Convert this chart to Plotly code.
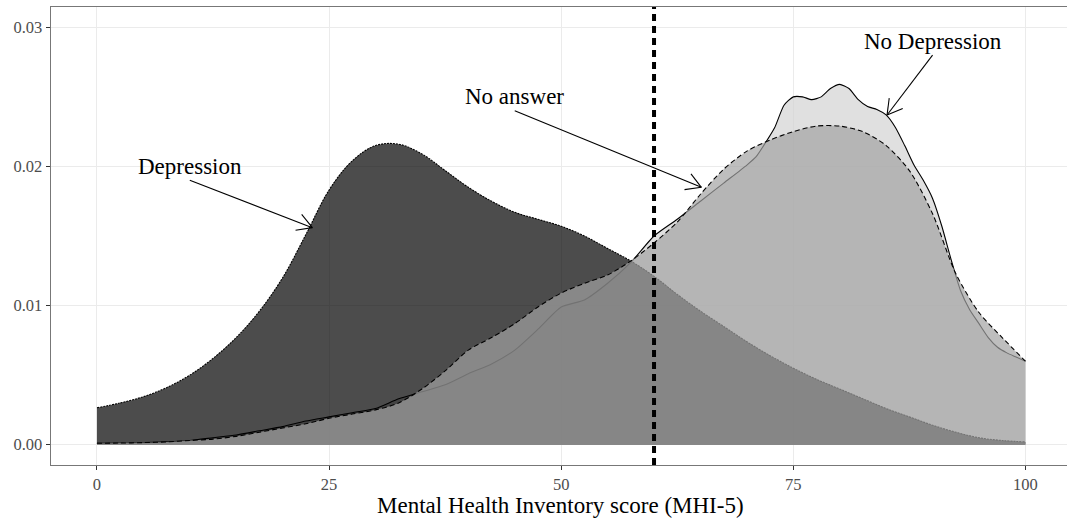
import plotly.graph_objects as go
import math

# ---------------- data ----------------
x_grid = [0, 2.5, 5, 7.5, 10, 12.5, 15, 17.5, 20, 22.5, 25, 27.5, 30, 32.5, 35, 37.5,
          40, 42.5, 45, 47.5, 50, 52.5, 55, 57.5, 60, 62.5, 65, 67.5, 70, 72.5, 75,
          77.5, 80, 82.5, 85, 87.5, 90, 92.5, 95, 97.5, 100]

depression = [0.00265, 0.0030, 0.00345, 0.0041, 0.0050, 0.0062, 0.0077, 0.0096, 0.0120,
              0.0151, 0.0183, 0.0204, 0.0215, 0.0216, 0.0209, 0.0197, 0.0185, 0.0175,
              0.0167, 0.0162, 0.0157, 0.0150, 0.0141, 0.0132, 0.0121, 0.0108, 0.0096,
              0.0085, 0.0074, 0.0064, 0.0055, 0.0047, 0.0040, 0.0033, 0.0026, 0.0020,
              0.0014, 0.0009, 0.0005, 0.0003, 0.0002]

no_answer = [0.0001, 0.00012, 0.00015, 0.0002, 0.0003, 0.0004, 0.0006, 0.0009, 0.0012,
             0.0015, 0.0019, 0.0022, 0.0025, 0.0030, 0.0040, 0.0053, 0.0068, 0.0077,
             0.0087, 0.0099, 0.0109, 0.0116, 0.0122, 0.0132, 0.0145, 0.0160, 0.0180,
             0.0198, 0.0211, 0.0219, 0.0225, 0.0229, 0.0229, 0.0225, 0.0215, 0.0197,
             0.0166, 0.0123, 0.0095, 0.0077, 0.0060]

nd_x = [0, 2.5, 5, 7.5, 10, 12.5, 15, 17.5, 20, 22.5, 25, 27.5, 30, 32.5, 35, 37.5,
        40, 42.5, 45, 47.5, 50, 52.5, 55, 57.5, 60, 62.5, 65, 67.5, 70, 71, 72, 73, 74,
        75, 76, 77, 78, 79, 80, 81, 82, 83, 84, 85, 86, 87, 88, 89, 90, 91, 92, 93,
        94, 95, 96, 97, 98, 99, 100]
no_depression = [0.0001, 0.0001, 0.00015, 0.0002, 0.0003, 0.0005, 0.0007, 0.0010, 0.0013,
                 0.0017, 0.0020, 0.0023, 0.0026, 0.0033, 0.0038, 0.0043, 0.0051, 0.0058,
                 0.0068, 0.0083, 0.0099, 0.0104, 0.0116, 0.0131, 0.0150, 0.0162, 0.0175,
                 0.0188, 0.0201, 0.0207, 0.0217, 0.0228, 0.0244, 0.0250, 0.0250, 0.0248,
                 0.0250, 0.0256, 0.0259, 0.0256, 0.0248, 0.0243, 0.0241, 0.0237, 0.0228,
                 0.0215, 0.0201, 0.0190, 0.0177, 0.0157, 0.0133, 0.0111, 0.0097, 0.0087,
                 0.0077, 0.0070, 0.0066, 0.0063, 0.0060]

cutoff = 60
x_ticks = [0, 25, 50, 75, 100]
y_ticks = [0.00, 0.01, 0.02, 0.03]
y_ticktext = ["0.00", "0.01", "0.02", "0.03"]
x_title = "Mental Health Inventory score (MHI-5)"

# label text, label position, arrow start, arrow end
labels = [
    ("Depression", 10, 0.0200, 10, 0.0190, 23.2, 0.0156),
    ("No answer", 45, 0.0250, 45, 0.0240, 65.1, 0.0185),
    ("No Depression", 90, 0.0290, 90, 0.0280, 85.1, 0.0237),
]

# ---------------- layout geometry ----------------
W, H = 1067, 519
ML, MR, MT, MB = 51, 0, 7, 54
XR = [-4.95, 104.48]
YR = [-0.00146, 0.03146]
FONT = "Liberation Serif, Times New Roman, serif"

fig = go.Figure()

# No Depression (drawn first), Depression, No answer (last)
fig.add_trace(go.Scatter(x=nd_x, y=no_depression, mode="lines", fill="tozeroy",
                         fillcolor="rgba(211,211,211,0.7)",
                         line=dict(color="black", width=1.1, shape="spline", smoothing=0.6),
                         showlegend=False, hoverinfo="skip"))
fig.add_trace(go.Scatter(x=x_grid, y=depression, mode="lines", fill="tozeroy",
                         fillcolor="rgba(0,0,0,0.7)",
                         line=dict(color="black", width=1.1, dash="2px,1px", shape="spline", smoothing=1.0),
                         showlegend=False, hoverinfo="skip"))
fig.add_trace(go.Scatter(x=x_grid, y=no_answer, mode="lines", fill="tozeroy",
                         fillcolor="rgba(163,163,163,0.7)",
                         line=dict(color="black", width=1.1, dash="5px,3px", shape="spline", smoothing=0.8),
                         showlegend=False, hoverinfo="skip"))

# arrows with open V heads (computed in pixel space)
pw = W - ML - MR
ph = H - MT - MB
sx = pw / (XR[1] - XR[0])
sy = ph / (YR[1] - YR[0])
ax_, ay_ = [], []
head_len, head_ang = 17, math.radians(30)
for txt, lx, ly, x0, y0, x1, y1 in labels:
    ax_ += [x0, x1, None]
    ay_ += [y0, y1, None]
    dxp = (x1 - x0) * sx
    dyp = (y1 - y0) * sy
    ang = math.atan2(dyp, dxp)
    for s in (1, -1):
        a = ang + math.pi + s * head_ang
        bx = x1 + head_len * math.cos(a) / sx
        by = y1 + head_len * math.sin(a) / sy
        ax_ += [x1, bx, None]
        ay_ += [y1, by, None]
fig.add_trace(go.Scatter(x=ax_, y=ay_, mode="lines", line=dict(color="black", width=1.1),
                         showlegend=False, hoverinfo="skip"))

for txt, lx, ly, *_ in labels:
    fig.add_annotation(x=lx, y=ly, text=txt, showarrow=False,
                       font=dict(family=FONT, size=23, color="black"),
                       xanchor="center", yanchor="middle")

# x-axis title as paper annotation (centre at ~505px)
fig.add_annotation(x=(560.5 - ML) / pw, xref="paper", y=-(505 - (H - MB)) / ph, yref="paper",
                   text=x_title, showarrow=False, xanchor="center", yanchor="middle",
                   font=dict(family=FONT, size=23, color="black"))

fig.add_shape(type="line", x0=cutoff, x1=cutoff, xref="x", y0=0, y1=1, yref="paper",
              line=dict(color="black", width=4, dash="7px,5px"), layer="above")

fig.update_layout(
    width=W, height=H,
    margin=dict(l=ML, r=MR, t=MT, b=MB, autoexpand=False),
    paper_bgcolor="white", plot_bgcolor="white",
    showlegend=False,
    font=dict(family=FONT),
)
fig.update_xaxes(range=XR, tickvals=x_ticks, ticks="outside", ticklen=4, tickwidth=1,
                 tickcolor="#333333", showline=True, linecolor="#777777", linewidth=1.4,
                 mirror=True, showgrid=True, gridcolor="#ebebeb", gridwidth=1, zeroline=False,
                 automargin=False,
                 tickfont=dict(family=FONT, size=16.5, color="#4d4d4d"))
fig.update_yaxes(range=YR, tickvals=y_ticks, ticktext=y_ticktext, ticks="outside", ticklen=4,
                 tickwidth=1, tickcolor="#333333", showline=True, linecolor="#777777",
                 linewidth=1.4, mirror=False, showgrid=True, gridcolor="#ebebeb", gridwidth=1,
                 zeroline=False, automargin=False,
                 tickfont=dict(family=FONT, size=16.5, color="#4d4d4d"))

fig.write_html("out.html",
               config={"displayModeBar": False, "staticPlot": True},
               post_script="document.body.style.margin='0';"
                           "document.body.style.overflow='hidden';"
                           "document.documentElement.style.overflow='hidden';")
